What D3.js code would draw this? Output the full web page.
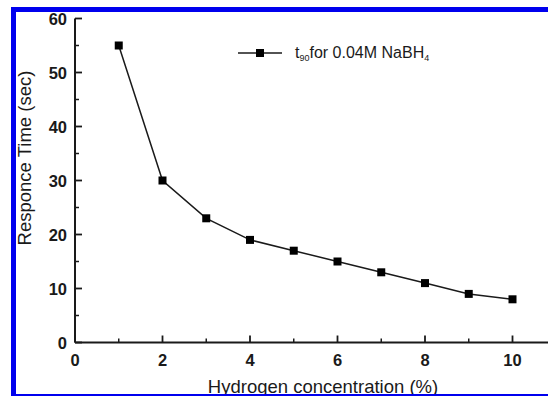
<!DOCTYPE html>
<html><head><meta charset="utf-8">
<script src="https://cdn.jsdelivr.net/npm/d3@7"></script>
<style>
html,body{margin:0;padding:0;background:#fff;}
svg{display:block;}
text{font-family:"Liberation Sans",Arial,sans-serif;fill:#1a1a1a;}
</style></head>
<body>
<svg id="c" width="548" height="396"></svg>
<script>
const concentration = [1, 2, 3, 4, 5, 6, 7, 8, 9, 10];
const responseTime = [55, 30, 23, 19, 17, 15, 13, 11, 9, 8];
const xTicks = [0, 2, 4, 6, 8, 10];
const yTicks = [0, 10, 20, 30, 40, 50, 60];
const xLabel = "Hydrogen concentration (%)";
const yLabel = "Responce Time (sec)";
const legendLabel = "for 0.04M NaBH";

const svg = d3.select("#c");
const x = d3.scaleLinear().domain([0, 11]).range([75, 556.25]);
const y = d3.scaleLinear().domain([0, 60]).range([342.5, 18.5]);

const axisColor = "#1a1a1a";
svg.append("line").attr("x1", x(0)).attr("x2", 560).attr("y1", y(0)).attr("y2", y(0))
  .attr("stroke", axisColor).attr("stroke-width", 2);
svg.append("line").attr("x1", x(0)).attr("x2", x(0)).attr("y1", y(0)).attr("y2", y(60))
  .attr("stroke", axisColor).attr("stroke-width", 2);

const xMinor = d3.range(1, 11, 2);
svg.selectAll(".xt").data(xTicks).enter().append("line")
  .attr("x1", d => x(d)).attr("x2", d => x(d)).attr("y1", y(0)).attr("y2", y(0) - 7)
  .attr("stroke", axisColor).attr("stroke-width", 1.8);
svg.selectAll(".xm").data(xMinor).enter().append("line")
  .attr("x1", d => x(d)).attr("x2", d => x(d)).attr("y1", y(0)).attr("y2", y(0) - 4)
  .attr("stroke", axisColor).attr("stroke-width", 1.5);
const yMinor = d3.range(5, 60, 10);
svg.selectAll(".yt").data(yTicks).enter().append("line")
  .attr("x1", x(0)).attr("x2", x(0) + 7).attr("y1", d => y(d)).attr("y2", d => y(d))
  .attr("stroke", axisColor).attr("stroke-width", 1.8);
svg.selectAll(".ym").data(yMinor).enter().append("line")
  .attr("x1", x(0)).attr("x2", x(0) + 4).attr("y1", d => y(d)).attr("y2", d => y(d))
  .attr("stroke", axisColor).attr("stroke-width", 1.5);

svg.selectAll(".xl").data(xTicks).enter().append("text")
  .attr("x", d => x(d)).attr("y", 366).attr("text-anchor", "middle")
  .attr("font-size", 16.5).attr("font-weight", "bold").text(d => d);
svg.selectAll(".yl").data(yTicks).enter().append("text")
  .attr("x", 67).attr("y", d => y(d) + 6).attr("text-anchor", "end")
  .attr("font-size", 16.5).attr("font-weight", "bold").text(d => d);

svg.append("text").attr("x", 323).attr("y", 393).attr("text-anchor", "middle")
  .attr("font-size", 18.5).text(xLabel);
svg.append("text").attr("transform", "translate(31,158) rotate(-90)").attr("text-anchor", "middle")
  .attr("font-size", 18.5).text(yLabel);

const line = d3.line().x((d, i) => x(concentration[i])).y(d => y(d)).curve(d3.curveLinear);
svg.append("path").datum(responseTime).attr("d", line).attr("fill", "none")
  .attr("stroke", "#1a1a1a").attr("stroke-width", 1.5);
svg.selectAll(".pt").data(responseTime).enter().append("rect")
  .attr("x", (d, i) => x(concentration[i]) - 4).attr("y", d => y(d) - 4)
  .attr("width", 8).attr("height", 8).attr("fill", "#000");

svg.append("line").attr("x1", 238).attr("x2", 282).attr("y1", 53).attr("y2", 53)
  .attr("stroke", "#1a1a1a").attr("stroke-width", 1.5);
svg.append("rect").attr("x", 256).attr("y", 49).attr("width", 8).attr("height", 8).attr("fill", "#000");
const lt = svg.append("text").attr("x", 295).attr("y", 58).attr("font-size", 16);
lt.append("tspan").text("t");
lt.append("tspan").attr("font-size", 9).attr("dy", 3).text("90");
lt.append("tspan").attr("dy", -3).text(legendLabel);
lt.append("tspan").attr("font-size", 9).attr("dy", 3).text("4");

svg.append("rect").attr("x", 13.5).attr("y", 9.5).attr("width", 560).attr("height", 387)
  .attr("fill", "none").attr("stroke", "#0000ee").attr("stroke-width", 5);
</script>
</body></html>
